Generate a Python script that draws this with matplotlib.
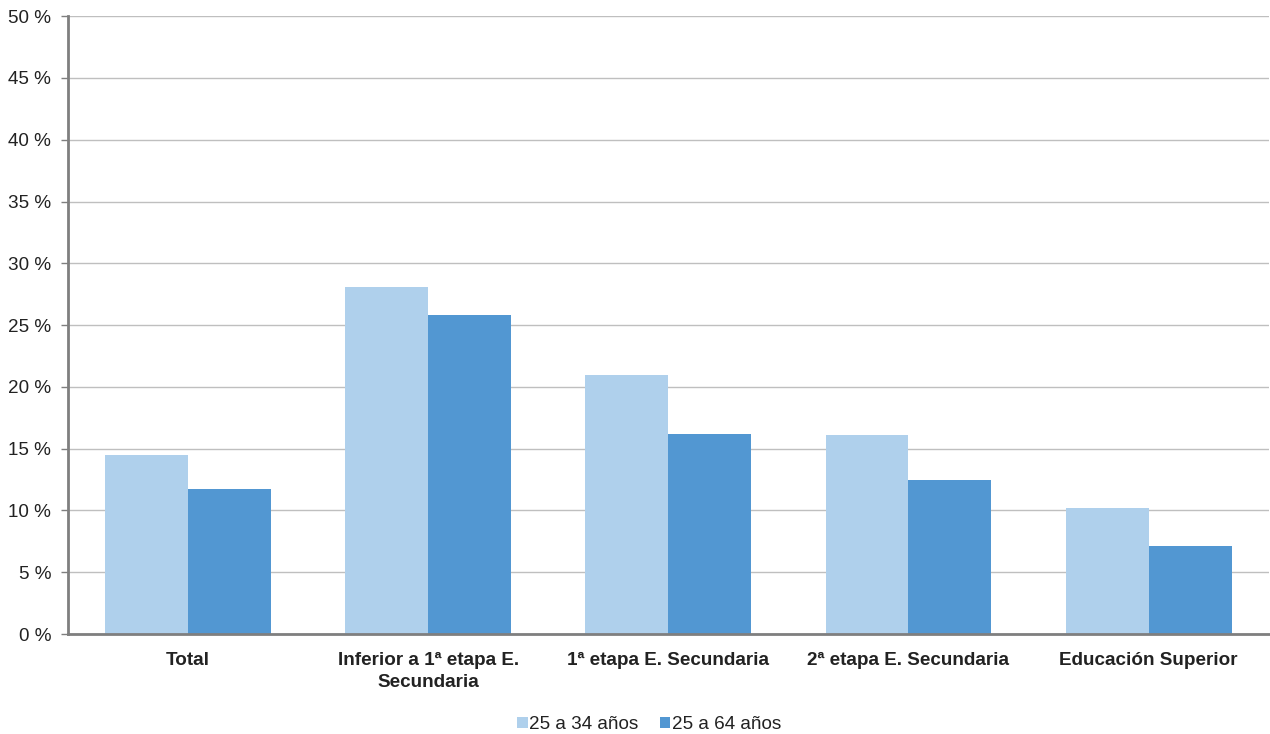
import numpy as np
import matplotlib.pyplot as plt
from matplotlib.ticker import FuncFormatter

plt.rcParams['font.family'] = ['Liberation Sans', 'DejaVu Sans']

categories = ['Total', 'Inferior a 1ª etapa E.\nSecundaria', '1ª etapa E. Secundaria',
              '2ª etapa E. Secundaria', 'Educación Superior']
series_names = ['25 a 34 años', '25 a 64 años']
young = [14.5, 28.1, 21.0, 16.1, 10.2]
all_ages = [11.7, 25.8, 16.2, 12.5, 7.1]
colors = ['#AFD0EC', '#5297D2']

fig = plt.figure(figsize=(12.7, 7.34), dpi=100)
ax = fig.add_axes([0.0535, 0.1362, 0.9455, 0.8418])

x = np.arange(len(categories))
w = 0.345
ax.bar(x - w / 2, young, w, color=colors[0], label=series_names[0], zorder=2)
ax.bar(x + w / 2, all_ages, w, color=colors[1], label=series_names[1], zorder=2)

ax.set_xlim(-0.5, len(categories) - 0.5)
ax.set_ylim(0, 50)
ax.set_yticks(np.arange(0, 51, 5))
ax.yaxis.set_major_formatter(FuncFormatter(lambda v, p: f'{int(v)} %'))
ax.grid(axis='y', color='#BFBFBF', linewidth=1, zorder=0)
ax.set_axisbelow(True)

for s in ['top', 'right']:
    ax.spines[s].set_visible(False)
for s in ['left', 'bottom']:
    ax.spines[s].set_color('#7F7F7F')
    ax.spines[s].set_linewidth(2)

ax.tick_params(axis='y', length=5, width=1, color='#7F7F7F', labelsize=13.6,
               labelcolor='#222222', pad=7)
ax.tick_params(axis='x', length=0, pad=13)
ax.set_xticks(x)
ax.set_xticklabels(categories, fontsize=13.6, fontweight='bold', color='#222222',
                   linespacing=1.35)

ax.legend(loc='center', bbox_to_anchor=(0.484, -0.147), ncol=2, frameon=False,
          fontsize=13.6, handlelength=0.55, handleheight=0.55, handletextpad=0.1,
          columnspacing=1.1, labelcolor='#222222')

fig.savefig('out.png', dpi=100)
